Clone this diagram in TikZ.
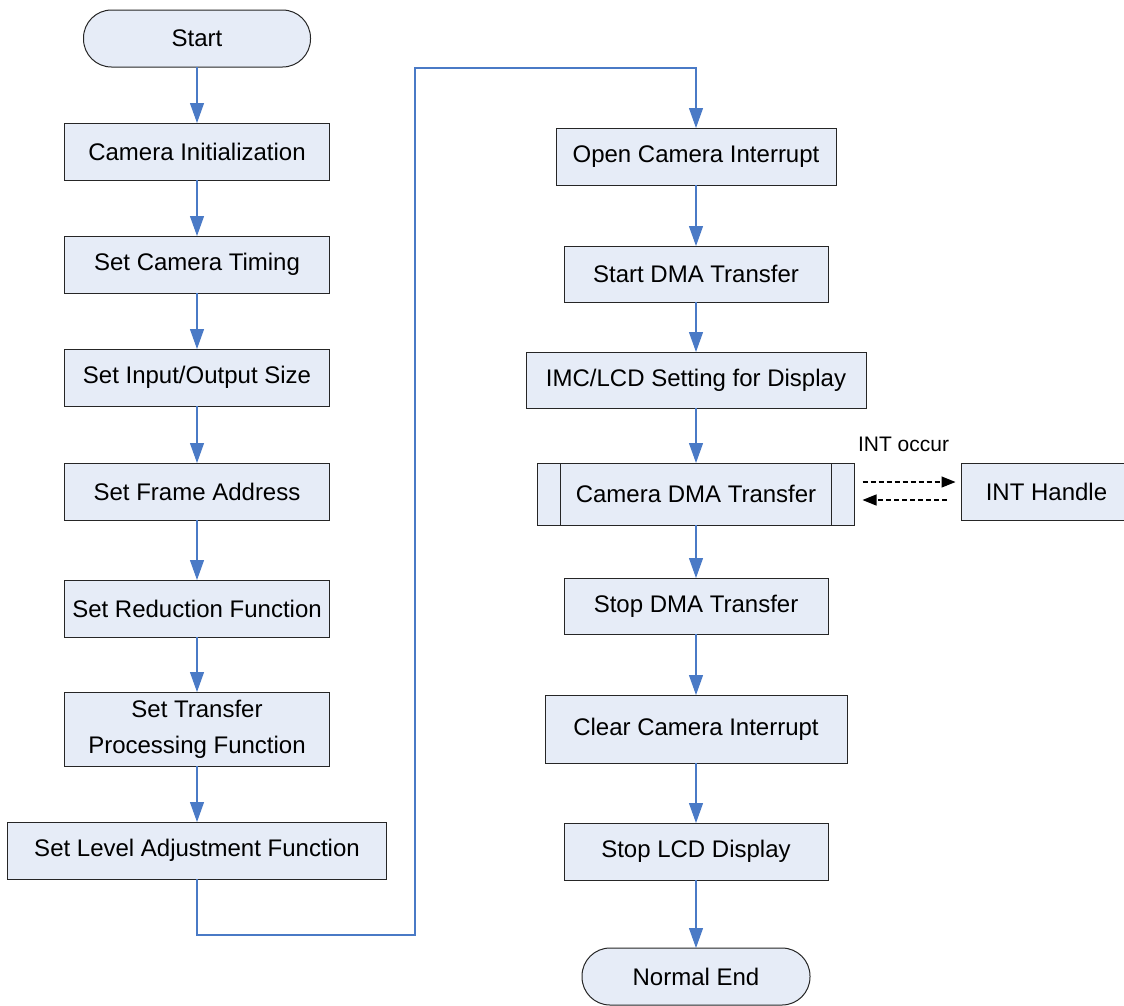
\documentclass[tikz,border=0pt]{standalone}
\usepackage{fontspec}
\setmainfont{Liberation Sans}
\usepackage{xcolor}
\usetikzlibrary{arrows.meta,positioning,calc}

\definecolor{boxfill}{HTML}{E6ECF7}
\definecolor{flowblue}{HTML}{4A7AC6}

\begin{document}
\begin{tikzpicture}[x=1pt, y=1pt,
    stepbox/.style={rectangle, draw=black!85, line width=1pt, fill=boxfill, inner sep=0pt, outer sep=0pt, minimum width=265pt, minimum height=57pt, align=center, font=\fontsize{24}{36}\selectfont},
    term/.style={stepbox, rounded corners=28pt, minimum width=227pt},
    arrow/.style={-{Triangle[length=20pt,width=14pt]}, draw=flowblue, line width=1.2pt},
    dasharrow/.style={-{Triangle[length=14pt,width=11pt]}, black, dash pattern=on 5pt off 3pt, line width=1.2pt}
]
\useasboundingbox (0,0) rectangle (1124,-1005);

% left column
\node[term] (start) at (197,-38.5) {Start};
\node[stepbox, below=56pt of start] (init) {Camera Initialization};
\node[stepbox, below=56pt of init] (timing) {Set Camera Timing};
\node[stepbox, below=56pt of timing] (iosize) {Set Input/Output Size};
\node[stepbox, below=57pt of iosize] (frame) {Set Frame Address};
\node[stepbox, below=60pt of frame] (reduce) {Set Reduction Function};
\node[stepbox, below=55pt of reduce, minimum height=74pt] (transfer) {Set Transfer\\Processing Function};
\node[stepbox, below=56pt of transfer, minimum width=379pt] (level) {Set Level Adjustment Function};

% right column
\node[stepbox, minimum width=280pt] (opencam) at (696,-156.5) {Open Camera Interrupt};
\node[stepbox, below=61pt of opencam, minimum width=264pt, minimum height=56pt] (startdma) {Start DMA Transfer};
\node[stepbox, below=50pt of startdma, minimum width=340pt, minimum height=56pt] (imc) {IMC/LCD Setting for Display};
\node[stepbox, below=55pt of imc, minimum width=317pt, minimum height=62pt] (camdma) {Camera DMA Transfer};
\node[stepbox, below=53pt of camdma, minimum width=264pt, minimum height=56pt] (stopdma) {Stop DMA Transfer};
\node[stepbox, below=61pt of stopdma, minimum width=302pt, minimum height=68pt] (clearint) {Clear Camera Interrupt};
\node[stepbox, below=60pt of clearint, minimum width=264pt] (stoplcd) {Stop LCD Display};
\node[term, below=68pt of stoplcd, minimum width=228pt] (normend) {Normal End};
\node[stepbox, minimum width=170pt, anchor=west] (inthandle) at ($(camdma.east)+(107,2)$) {INT Handle};
\node[font=\fontsize{21}{25}\selectfont, above=8pt of camdma.north east, xshift=49pt] (intlbl) {INT occur};

\draw[black!85, line width=1pt] ([xshift=23pt]camdma.north west) -- ([xshift=23pt]camdma.south west);
\draw[black!85, line width=1pt] ([xshift=-23pt]camdma.north east) -- ([xshift=-23pt]camdma.south east);

\draw[arrow] (start) -- (init);
\draw[arrow] (init) -- (timing);
\draw[arrow] (timing) -- (iosize);
\draw[arrow] (iosize) -- (frame);
\draw[arrow] (frame) -- (reduce);
\draw[arrow] (reduce) -- (transfer);
\draw[arrow] (transfer) -- (level);

\coordinate (loopturn) at (415,-68);
\draw[arrow] (level.south) -- ++(0,-56) -| (loopturn) -| (opencam.north);

\draw[arrow] (opencam) -- (startdma);
\draw[arrow] (startdma) -- (imc);
\draw[arrow] (imc) -- (camdma);
\draw[arrow] (camdma) -- (stopdma);
\draw[arrow] (stopdma) -- (clearint);
\draw[arrow] (clearint) -- (stoplcd);
\draw[arrow] (stoplcd) -- (normend);

\draw[dasharrow] ([xshift=8pt,yshift=12pt]camdma.east) -- ([xshift=-6pt,yshift=10pt]inthandle.west);
\draw[dasharrow] ([xshift=-15pt,yshift=-8pt]inthandle.west) -- ([xshift=8pt,yshift=-6pt]camdma.east);
\end{tikzpicture}
\end{document}
